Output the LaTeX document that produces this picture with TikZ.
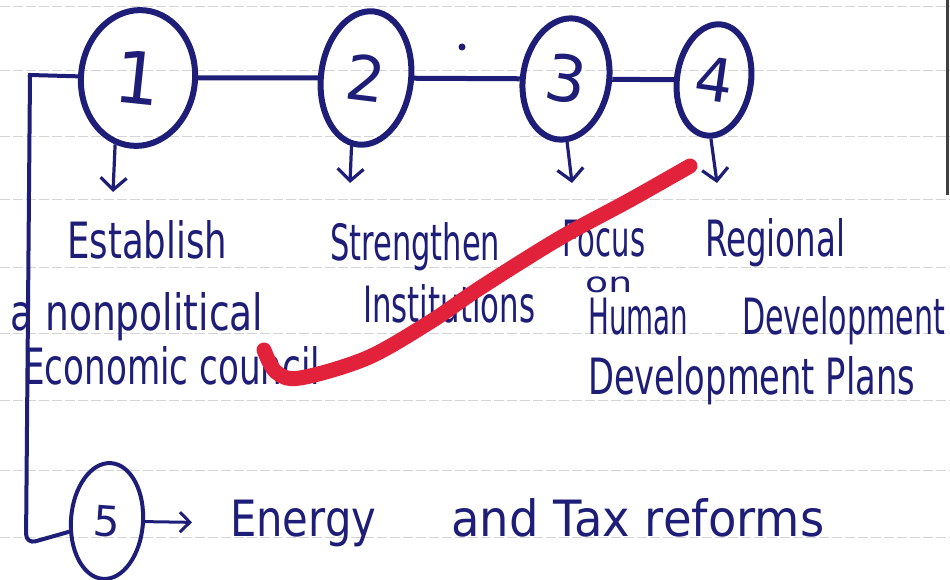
\documentclass[tikz,border=0pt]{standalone}
\usepackage{fontspec}
\setmainfont{DejaVu Sans}
\usepackage{graphicx}
\usetikzlibrary{shapes.geometric,arrows.meta}
\definecolor{ink}{RGB}{30,30,120}
\definecolor{redmark}{RGB}{226,34,58}
\definecolor{ruleline}{RGB}{212,212,212}
\newcommand{\hw}[2]{\resizebox{#1pt}{\height}{#2}}
\begin{document}
\begin{tikzpicture}[x=1pt,y=-1pt,
  bub/.style={draw=ink, line width=6pt, ellipse, inner sep=0pt, text=ink},
  conn/.style={draw=ink, line width=5pt},
  downarr/.style={draw=ink, line width=3.2pt, -{Straight Barb[length=12pt,width=26pt]}},
  hand/.style={text=ink, anchor=base west, inner sep=0pt, font=\fontsize{50}{50}\selectfont},
  ruled/.style={draw=ruleline, line width=1pt, dash pattern=on 10pt off 3pt},
  redstroke/.style={draw=redmark, line width=15pt, line cap=round, line join=round}
]
\useasboundingbox (0,0) rectangle (950,580);
\fill[white] (0,0) rectangle (950,580);
% ruled paper
\foreach \yy in {7,71,137,200,267,333,400,470,537}
  \draw[ruled] (0,\yy) -- (950,\yy);
\draw[draw=black!75, line width=3pt] (947,0) -- (947,195);

% bubbles
\node[bub, minimum width=114pt, minimum height=136pt, rotate=-6, font=\fontsize{72}{72}\selectfont] (n1) at (138,78) {1};
\node[bub, minimum width=90pt, minimum height=134pt, rotate=-7, font=\fontsize{62}{62}\selectfont] (n2) at (366,78) {2};
\node[bub, minimum width=86pt, minimum height=122pt, rotate=-9, font=\fontsize{64}{64}\selectfont] (n3) at (566,79) {3};
\node[bub, minimum width=74pt, minimum height=112pt, rotate=-8, font=\fontsize{60}{60}\selectfont] (n4) at (714,80) {4};
\node[bub, line width=4pt, minimum width=72pt, minimum height=116pt, rotate=-4, font=\fontsize{42}{42}\selectfont] (n5) at (107,521) {5};

% stray dot
\fill[ink] (462,47) circle (3.5pt);

% connectors
\draw[conn] (n1) -- (n2);
\draw[conn] (n2) -- (n3);
\draw[conn] (n3) -- (n4);
\coordinate (c1) at (30,75);
\coordinate (c2) at (26,544);
\draw[conn, line width=4pt, line cap=rect] (n1) -- (c1);
\draw[conn, line width=4pt, rounded corners=10pt] (c1) -- (c2) -- (n5);

% down arrows
\coordinate (t1) at (113,192);
\coordinate (t2) at (350,183);
\coordinate (t3) at (572,183);
\coordinate (t4) at (717,183);
\draw[downarr] (n1.257) -- (t1);
\draw[downarr] (n2.265) -- (t2);
\draw[downarr] (n3.280) -- (t3);
\draw[downarr] (n4.275) -- (t4);

% texts
\node[hand] (e1) at (67,258) {\hw{160}{Establish}};
\node[hand] (e2) at (10,330) {\hw{253}{a nonpolitical}};
\node[hand] (e3) at (23,384) {\hw{297}{Economic council}};
\node[hand] (s1) at (330,260) {\hw{170}{Strengthen}};
\node[hand] (s2) at (363,322) {\hw{172}{Institutions}};
\node[hand] (f1) at (562,256) {\hw{83}{Focus}};
\node[hand, font=\fontsize{28}{28}\selectfont] (f2) at (585,292) {\hw{47}{on}};
\node[hand] (f3) at (588,334) {\hw{100}{Human}};
\node[hand] (f4) at (588,394) {\hw{327}{Development Plans}};
\node[hand] (r1) at (705,256) {\hw{140}{Regional}};
\node[hand] (r2) at (742,334) {\hw{203}{Development}};
\node[hand] (g1) at (230,536) {\hw{146}{Energy}};
\node[hand] (g2) at (451,536) {\hw{373}{and Tax reforms}};

% arrow 5 -> Energy
\draw[draw=ink, line width=3pt, -{Straight Barb[length=10pt,width=20pt]}, shorten >=38pt] (n5) -- (g1.west);

% red check stroke
\draw[redstroke] plot[smooth, tension=0.55] coordinates {(264,350) (276,372) (300,378) (367,358) (430,322) (480,288) (560,238) (630,200) (690,166)};
\end{tikzpicture}
\end{document}
